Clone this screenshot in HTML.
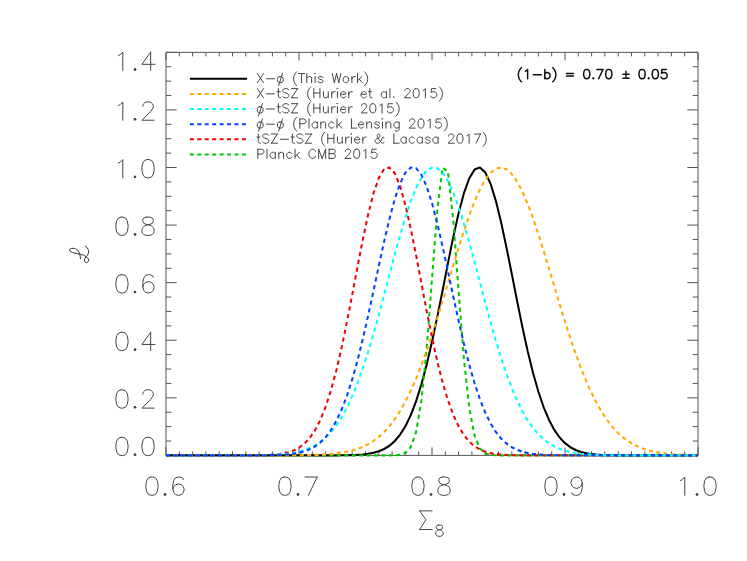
<!DOCTYPE html>
<html><head><meta charset="utf-8"><title>Likelihood plot</title>
<style>html,body{margin:0;padding:0;background:#fff;font-family:"Liberation Sans",sans-serif;}svg{display:block}</style>
</head><body>
<svg width="747" height="561" viewBox="0 0 747 561">
<rect width="747" height="561" fill="#fff"/>
<path d="M166.00 52.35H698.00V455.40H166.00ZM166.00 455.40v-8.00M166.00 52.35v8.00M179.30 455.40v-4.00M179.30 52.35v4.00M192.60 455.40v-4.00M192.60 52.35v4.00M205.90 455.40v-4.00M205.90 52.35v4.00M219.20 455.40v-4.00M219.20 52.35v4.00M232.50 455.40v-4.00M232.50 52.35v4.00M245.80 455.40v-4.00M245.80 52.35v4.00M259.10 455.40v-4.00M259.10 52.35v4.00M272.40 455.40v-4.00M272.40 52.35v4.00M285.70 455.40v-4.00M285.70 52.35v4.00M299.00 455.40v-8.00M299.00 52.35v8.00M312.30 455.40v-4.00M312.30 52.35v4.00M325.60 455.40v-4.00M325.60 52.35v4.00M338.90 455.40v-4.00M338.90 52.35v4.00M352.20 455.40v-4.00M352.20 52.35v4.00M365.50 455.40v-4.00M365.50 52.35v4.00M378.80 455.40v-4.00M378.80 52.35v4.00M392.10 455.40v-4.00M392.10 52.35v4.00M405.40 455.40v-4.00M405.40 52.35v4.00M418.70 455.40v-4.00M418.70 52.35v4.00M432.00 455.40v-8.00M432.00 52.35v8.00M445.30 455.40v-4.00M445.30 52.35v4.00M458.60 455.40v-4.00M458.60 52.35v4.00M471.90 455.40v-4.00M471.90 52.35v4.00M485.20 455.40v-4.00M485.20 52.35v4.00M498.50 455.40v-4.00M498.50 52.35v4.00M511.80 455.40v-4.00M511.80 52.35v4.00M525.10 455.40v-4.00M525.10 52.35v4.00M538.40 455.40v-4.00M538.40 52.35v4.00M551.70 455.40v-4.00M551.70 52.35v4.00M565.00 455.40v-8.00M565.00 52.35v8.00M578.30 455.40v-4.00M578.30 52.35v4.00M591.60 455.40v-4.00M591.60 52.35v4.00M604.90 455.40v-4.00M604.90 52.35v4.00M618.20 455.40v-4.00M618.20 52.35v4.00M631.50 455.40v-4.00M631.50 52.35v4.00M644.80 455.40v-4.00M644.80 52.35v4.00M658.10 455.40v-4.00M658.10 52.35v4.00M671.40 455.40v-4.00M671.40 52.35v4.00M684.70 455.40v-4.00M684.70 52.35v4.00M698.00 455.40v-8.00M698.00 52.35v8.00M166.00 455.40h10.70M698.00 455.40h-10.70M166.00 441.01h5.30M698.00 441.01h-5.30M166.00 426.61h5.30M698.00 426.61h-5.30M166.00 412.22h5.30M698.00 412.22h-5.30M166.00 397.82h10.70M698.00 397.82h-10.70M166.00 383.43h5.30M698.00 383.43h-5.30M166.00 369.03h5.30M698.00 369.03h-5.30M166.00 354.64h5.30M698.00 354.64h-5.30M166.00 340.24h10.70M698.00 340.24h-10.70M166.00 325.85h5.30M698.00 325.85h-5.30M166.00 311.45h5.30M698.00 311.45h-5.30M166.00 297.06h5.30M698.00 297.06h-5.30M166.00 282.66h10.70M698.00 282.66h-10.70M166.00 268.27h5.30M698.00 268.27h-5.30M166.00 253.87h5.30M698.00 253.87h-5.30M166.00 239.48h5.30M698.00 239.48h-5.30M166.00 225.09h10.70M698.00 225.09h-10.70M166.00 210.69h5.30M698.00 210.69h-5.30M166.00 196.30h5.30M698.00 196.30h-5.30M166.00 181.90h5.30M698.00 181.90h-5.30M166.00 167.51h10.70M698.00 167.51h-10.70M166.00 153.11h5.30M698.00 153.11h-5.30M166.00 138.72h5.30M698.00 138.72h-5.30M166.00 124.32h5.30M698.00 124.32h-5.30M166.00 109.93h10.70M698.00 109.93h-10.70M166.00 95.53h5.30M698.00 95.53h-5.30M166.00 81.14h5.30M698.00 81.14h-5.30M166.00 66.74h5.30M698.00 66.74h-5.30M166.00 52.35h10.70M698.00 52.35h-10.70" fill="none" stroke="#555" stroke-width="1"/>
<path transform="scale(1,1.067)" d="M166.00 426.804L171.32 426.804L176.64 426.804L181.96 426.804L187.28 426.804L192.60 426.804L197.92 426.804L203.24 426.804L208.56 426.804L213.88 426.804L219.20 426.804L224.52 426.804L229.84 426.804L235.16 426.804L240.48 426.804L245.80 426.804L251.12 426.804L256.44 426.804L261.76 426.804L267.08 426.804L272.40 426.804L277.72 426.804L283.04 426.804L288.36 426.804L293.68 426.804L299.00 426.804L304.32 426.803L309.64 426.803L314.96 426.801L320.28 426.798L325.60 426.792L330.92 426.779L336.24 426.756L341.56 426.714L346.88 426.638L352.20 426.507L357.52 426.284L362.84 425.914L368.16 425.319L373.48 424.383L378.80 422.953L384.12 420.824L389.44 417.738L394.76 413.386L400.08 407.417L405.40 399.458L410.72 389.150L416.04 376.188L421.36 360.382L426.68 341.711L432.00 320.384L437.32 296.874L442.64 271.942L447.96 246.613L453.28 222.124L458.60 199.834L463.92 181.099L469.24 167.139L474.56 158.910L479.88 156.989L485.20 161.514L490.52 172.163L495.84 188.194L501.16 208.530L506.48 231.880L511.80 256.869L517.12 282.176L522.44 306.640L527.76 329.339L533.08 349.630L538.40 367.148L543.72 381.786L549.04 393.640L554.36 402.953L559.68 410.059L565.00 415.327L570.32 419.125L575.64 421.788L580.96 423.605L586.28 424.813L591.60 425.594L596.92 426.086L602.24 426.388L607.56 426.569L612.88 426.674L618.20 426.734L623.52 426.767L628.84 426.785L634.16 426.795L639.48 426.799L644.80 426.802L650.12 426.803L655.44 426.804L660.76 426.804L666.08 426.804L671.40 426.804L676.72 426.804L682.04 426.804L687.36 426.804L692.68 426.804L698.00 426.804" fill="none" stroke="#000000" stroke-width="2.0" stroke-linejoin="round"/>
<path transform="scale(1,1.067)" d="M166.00 426.804L171.32 426.804L176.64 426.804L181.96 426.804L187.28 426.804L192.60 426.804L197.92 426.804L203.24 426.804L208.56 426.804L213.88 426.804L219.20 426.804L224.52 426.804L229.84 426.804L235.16 426.804L240.48 426.804L245.80 426.804L251.12 426.804L256.44 426.804L261.76 426.804L267.08 426.804L272.40 426.804L277.72 426.804L283.04 426.804L288.36 426.804L293.68 426.804L299.00 426.804L304.32 426.804L309.64 426.804L314.96 426.804L320.28 426.804L325.60 426.804L330.92 426.804L336.24 426.804L341.56 426.804L346.88 426.804L352.20 426.804L357.52 426.804L362.84 426.804L368.16 426.804L373.48 426.804L378.80 426.804L384.12 426.801L389.44 426.781L394.76 426.675L400.08 426.200L405.40 424.433L410.72 418.976L416.04 405.054L421.36 375.961L426.68 326.810L432.00 261.344L437.32 196.453L442.64 156.989L447.96 160.903L453.28 206.332L458.60 273.002L463.92 336.532L469.24 382.226L474.56 408.283L479.88 420.330L485.20 424.900L490.52 426.333L495.84 426.706L501.16 426.787L506.48 426.802L511.80 426.804L517.12 426.804L522.44 426.804L527.76 426.804L533.08 426.804L538.40 426.804L543.72 426.804L549.04 426.804L554.36 426.804L559.68 426.804L565.00 426.804L570.32 426.804L575.64 426.804L580.96 426.804L586.28 426.804L591.60 426.804L596.92 426.804L602.24 426.804L607.56 426.804L612.88 426.804L618.20 426.804L623.52 426.804L628.84 426.804L634.16 426.804L639.48 426.804L644.80 426.804L650.12 426.804L655.44 426.804L660.76 426.804L666.08 426.804L671.40 426.804L676.72 426.804L682.04 426.804L687.36 426.804L692.68 426.804L698.00 426.804" fill="none" stroke="#00c800" stroke-width="2.0" stroke-linejoin="round" stroke-dasharray="4.0 3.43"/>
<path transform="scale(1,1.067)" d="M166.00 426.804L171.32 426.804L176.64 426.804L181.96 426.804L187.28 426.804L192.60 426.804L197.92 426.804L203.24 426.804L208.56 426.804L213.88 426.804L219.20 426.804L224.52 426.804L229.84 426.804L235.16 426.804L240.48 426.803L245.80 426.802L251.12 426.801L256.44 426.800L261.76 426.797L267.08 426.793L272.40 426.786L277.72 426.777L283.04 426.762L288.36 426.739L293.68 426.706L299.00 426.658L304.32 426.588L309.64 426.487L314.96 426.345L320.28 426.146L325.60 425.870L330.92 425.493L336.24 424.983L341.56 424.300L346.88 423.398L352.20 422.219L357.52 420.696L362.84 418.751L368.16 416.298L373.48 413.241L378.80 409.476L384.12 404.897L389.44 399.395L394.76 392.870L400.08 385.228L405.40 376.395L410.72 366.323L416.04 354.993L421.36 342.430L426.68 328.700L432.00 313.923L437.32 298.274L442.64 281.979L447.96 265.317L453.28 248.612L458.60 232.228L463.92 216.549L469.24 201.972L474.56 188.888L479.88 177.664L485.20 168.627L490.52 162.048L495.84 158.128L501.16 156.989L506.48 158.666L511.80 163.108L517.12 170.176L522.44 179.656L527.76 191.263L533.08 204.663L538.40 219.482L543.72 235.327L549.04 251.802L554.36 268.525L559.68 285.141L565.00 301.332L570.32 316.830L575.64 331.418L580.96 344.932L586.28 357.263L591.60 368.351L596.92 378.184L602.24 386.783L607.56 394.205L612.88 400.526L618.20 405.843L623.52 410.258L628.84 413.879L634.16 416.812L639.48 419.161L644.80 421.018L650.12 422.470L655.44 423.591L660.76 424.447L666.08 425.093L671.40 425.575L676.72 425.930L682.04 426.189L687.36 426.376L692.68 426.509L698.00 426.603" fill="none" stroke="#ffaa00" stroke-width="2.0" stroke-linejoin="round" stroke-dasharray="4.0 3.43"/>
<path transform="scale(1,1.067)" d="M166.00 426.804L171.32 426.804L176.64 426.804L181.96 426.804L187.28 426.804L192.60 426.804L197.92 426.804L203.24 426.804L208.56 426.804L213.88 426.804L219.20 426.804L224.52 426.803L229.84 426.801L235.16 426.798L240.48 426.792L245.80 426.779L251.12 426.754L256.44 426.707L261.76 426.623L267.08 426.472L272.40 426.213L277.72 425.779L283.04 425.070L288.36 423.948L293.68 422.219L299.00 419.632L304.32 415.875L309.64 410.575L314.96 403.325L320.28 393.707L325.60 381.346L330.92 365.971L336.24 347.483L341.56 326.030L346.88 302.060L352.20 276.350L357.52 249.995L362.84 224.355L368.16 200.944L373.48 181.290L378.80 166.772L384.12 158.461L389.44 156.989L394.76 162.469L400.08 174.481L405.40 192.126L410.72 214.137L416.04 239.027L421.36 265.258L426.68 291.390L432.00 316.207L437.32 338.793L442.64 358.564L447.96 375.250L453.28 388.856L458.60 399.587L463.92 407.785L469.24 413.854L474.56 418.213L479.88 421.251L485.20 423.307L490.52 424.658L495.84 425.521L501.16 426.057L506.48 426.380L511.80 426.569L517.12 426.678L522.44 426.738L527.76 426.770L533.08 426.787L538.40 426.796L543.72 426.800L549.04 426.802L554.36 426.803L559.68 426.804L565.00 426.804L570.32 426.804L575.64 426.804L580.96 426.804L586.28 426.804L591.60 426.804L596.92 426.804L602.24 426.804L607.56 426.804L612.88 426.804L618.20 426.804L623.52 426.804L628.84 426.804L634.16 426.804L639.48 426.804L644.80 426.804L650.12 426.804L655.44 426.804L660.76 426.804L666.08 426.804L671.40 426.804L676.72 426.804L682.04 426.804L687.36 426.804L692.68 426.804L698.00 426.804" fill="none" stroke="#f00000" stroke-width="2.0" stroke-linejoin="round" stroke-dasharray="4.0 3.43"/>
<path transform="scale(1,1.067)" d="M166.00 426.804L171.32 426.804L176.64 426.804L181.96 426.804L187.28 426.804L192.60 426.804L197.92 426.804L203.24 426.803L208.56 426.803L213.88 426.801L219.20 426.799L224.52 426.796L229.84 426.791L235.16 426.782L240.48 426.767L245.80 426.744L251.12 426.709L256.44 426.653L261.76 426.569L267.08 426.443L272.40 426.257L277.72 425.986L283.04 425.597L288.36 425.048L293.68 424.282L299.00 423.231L304.32 421.809L309.64 419.916L314.96 417.432L320.28 414.224L325.60 410.144L330.92 405.037L336.24 398.744L341.56 391.117L346.88 382.026L352.20 371.372L357.52 359.102L362.84 345.225L368.16 329.821L373.48 313.053L378.80 295.174L384.12 276.526L389.44 257.536L394.76 238.701L400.08 220.572L405.40 203.726L410.72 188.737L416.04 176.147L421.36 166.427L426.68 159.956L432.00 156.989L437.32 157.645L442.64 161.898L447.96 169.578L453.28 180.383L458.60 193.897L463.92 209.621L469.24 226.997L474.56 245.447L479.88 264.399L485.20 283.320L490.52 301.735L495.84 319.248L501.16 335.548L506.48 350.415L511.80 363.718L517.12 375.402L522.44 385.483L527.76 394.033L533.08 401.161L538.40 407.008L543.72 411.727L549.04 415.475L554.36 418.405L559.68 420.661L565.00 422.371L570.32 423.648L575.64 424.587L580.96 425.268L586.28 425.754L591.60 426.096L596.92 426.333L602.24 426.495L607.56 426.604L612.88 426.676L618.20 426.723L623.52 426.754L628.84 426.773L634.16 426.785L639.48 426.793L644.80 426.798L650.12 426.800L655.44 426.802L660.76 426.803L666.08 426.803L671.40 426.804L676.72 426.804L682.04 426.804L687.36 426.804L692.68 426.804L698.00 426.804" fill="none" stroke="#00ffff" stroke-width="2.0" stroke-linejoin="round" stroke-dasharray="4.0 3.43"/>
<path transform="scale(1,1.067)" d="M166.00 426.804L171.32 426.804L176.64 426.804L181.96 426.804L187.28 426.804L192.60 426.804L197.92 426.804L203.24 426.804L208.56 426.804L213.88 426.804L219.20 426.804L224.52 426.803L229.84 426.803L235.16 426.801L240.48 426.799L245.80 426.793L251.12 426.784L256.44 426.767L261.76 426.736L267.08 426.683L272.40 426.594L277.72 426.447L283.04 426.208L288.36 425.830L293.68 425.244L299.00 424.357L304.32 423.044L309.64 421.144L314.96 418.457L320.28 414.745L325.60 409.738L330.92 403.142L336.24 394.665L341.56 384.040L346.88 371.060L352.20 355.620L357.52 337.752L362.84 317.667L368.16 295.775L373.48 272.692L378.80 249.232L384.12 226.365L389.44 205.159L394.76 186.696L400.08 171.990L405.40 161.887L410.72 156.989L416.04 157.593L421.36 163.663L426.68 174.830L432.00 190.435L437.32 209.586L442.64 231.248L447.96 254.332L453.28 277.788L458.60 300.674L463.92 322.218L469.24 341.847L474.56 359.197L479.88 374.099L485.20 386.552L490.52 396.688L495.84 404.731L501.16 410.955L506.48 415.655L511.80 419.122L517.12 421.618L522.44 423.374L527.76 424.582L533.08 425.394L538.40 425.927L543.72 426.270L549.04 426.485L554.36 426.618L559.68 426.697L565.00 426.744L570.32 426.771L575.64 426.786L580.96 426.795L586.28 426.799L591.60 426.802L596.92 426.803L602.24 426.804L607.56 426.804L612.88 426.804L618.20 426.804L623.52 426.804L628.84 426.804L634.16 426.804L639.48 426.804L644.80 426.804L650.12 426.804L655.44 426.804L660.76 426.804L666.08 426.804L671.40 426.804L676.72 426.804L682.04 426.804L687.36 426.804L692.68 426.804L698.00 426.804" fill="none" stroke="#0040ff" stroke-width="2.0" stroke-linejoin="round" stroke-dasharray="4.0 3.43"/>
<path d="M189.90 78.80H247.10" fill="none" stroke="#000000" stroke-width="2.0"/>
<path d="M189.90 93.90H247.10" fill="none" stroke="#ffaa00" stroke-width="2.0" stroke-dasharray="4.0 3.43"/>
<path d="M189.90 109.00H247.10" fill="none" stroke="#00ffff" stroke-width="2.0" stroke-dasharray="4.0 3.43"/>
<path d="M189.90 124.20H247.10" fill="none" stroke="#0040ff" stroke-width="2.0" stroke-dasharray="4.0 3.43"/>
<path d="M189.90 139.30H247.10" fill="none" stroke="#f00000" stroke-width="2.0" stroke-dasharray="4.0 3.43"/>
<path d="M189.90 154.50H247.10" fill="none" stroke="#00c800" stroke-width="2.0" stroke-dasharray="4.0 3.43"/>
<path d="M257.36 73.51L263.49 82.70M263.49 73.51L257.36 82.70M266.55 78.76L274.43 78.76M279.68 76.58L278.36 77.01L277.49 78.33L277.49 79.64L277.49 80.95L278.36 82.26L279.68 82.70L280.99 82.70L282.30 82.26L283.18 80.95L283.18 79.64L283.18 78.33L282.30 77.01L280.99 76.58L279.68 76.58M282.52 73.51L278.58 85.76M296.74 71.76L295.86 72.64L294.99 73.95L294.11 75.70L293.68 77.89L293.68 79.64L294.11 81.83L294.99 83.58L295.86 84.89L296.74 85.76M301.55 73.51L301.55 82.70M298.49 73.51L304.61 73.51M306.80 73.51L306.80 82.70M306.80 78.33L308.11 77.01L308.99 76.58L310.30 76.58L311.18 77.01L311.61 78.33L311.61 82.70M314.68 73.51L315.11 73.95L315.55 73.51L315.11 73.08L314.68 73.51M315.11 76.58L315.11 82.70M322.99 77.89L322.55 77.01L321.24 76.58L319.93 76.58L318.61 77.01L318.18 77.89L318.61 78.76L319.49 79.20L321.68 79.64L322.55 80.08L322.99 80.95L322.99 81.39L322.55 82.26L321.24 82.70L319.93 82.70L318.61 82.26L318.18 81.39M332.18 73.51L334.36 82.70M336.55 73.51L334.36 82.70M336.55 73.51L338.74 82.70M340.93 73.51L338.74 82.70M345.30 76.58L344.43 77.01L343.55 77.89L343.11 79.20L343.11 80.08L343.55 81.39L344.43 82.26L345.30 82.70L346.61 82.70L347.49 82.26L348.36 81.39L348.80 80.08L348.80 79.20L348.36 77.89L347.49 77.01L346.61 76.58L345.30 76.58M351.86 76.58L351.86 82.70M351.86 79.20L352.30 77.89L353.18 77.01L354.05 76.58L355.36 76.58M357.55 73.51L357.55 82.70M361.93 76.58L357.55 80.95M359.30 79.20L362.36 82.70M364.55 71.76L365.43 72.64L366.30 73.95L367.18 75.70L367.61 77.89L367.61 79.64L367.18 81.83L366.30 83.58L365.43 84.89L364.55 85.76M257.36 88.61L263.49 97.80M263.49 88.61L257.36 97.80M266.55 93.86L274.43 93.86M278.36 88.61L278.36 96.05L278.80 97.36L279.68 97.80L280.55 97.80M277.05 91.68L280.11 91.68M288.86 89.93L287.99 89.05L286.68 88.61L284.93 88.61L283.61 89.05L282.74 89.93L282.74 90.80L283.18 91.68L283.61 92.11L284.49 92.55L287.11 93.43L287.99 93.86L288.43 94.30L288.86 95.18L288.86 96.49L287.99 97.36L286.68 97.80L284.93 97.80L283.61 97.36L282.74 96.49M297.61 88.61L291.49 97.80M291.49 88.61L297.61 88.61M291.49 97.80L297.61 97.80M310.74 86.86L309.86 87.74L308.99 89.05L308.11 90.80L307.68 92.99L307.68 94.74L308.11 96.93L308.99 98.68L309.86 99.99L310.74 100.86M313.80 88.61L313.80 97.80M319.93 88.61L319.93 97.80M313.80 92.99L319.93 92.99M323.43 91.68L323.43 96.05L323.86 97.36L324.74 97.80L326.05 97.80L326.93 97.36L328.24 96.05M328.24 91.68L328.24 97.80M331.74 91.68L331.74 97.80M331.74 94.30L332.18 92.99L333.05 92.11L333.93 91.68L335.24 91.68M336.99 88.61L337.43 89.05L337.86 88.61L337.43 88.18L336.99 88.61M337.43 91.68L337.43 97.80M340.49 94.30L345.74 94.30L345.74 93.43L345.30 92.55L344.86 92.11L343.99 91.68L342.68 91.68L341.80 92.11L340.93 92.99L340.49 94.30L340.49 95.18L340.93 96.49L341.80 97.36L342.68 97.80L343.99 97.80L344.86 97.36L345.74 96.49M348.80 91.68L348.80 97.80M348.80 94.30L349.24 92.99L350.11 92.11L350.99 91.68L352.30 91.68M361.05 94.30L366.30 94.30L366.30 93.43L365.86 92.55L365.43 92.11L364.55 91.68L363.24 91.68L362.36 92.11L361.49 92.99L361.05 94.30L361.05 95.18L361.49 96.49L362.36 97.36L363.24 97.80L364.55 97.80L365.43 97.36L366.30 96.49M369.80 88.61L369.80 96.05L370.24 97.36L371.11 97.80L371.99 97.80M368.49 91.68L371.55 91.68M386.43 91.68L386.43 97.80M386.43 92.99L385.55 92.11L384.68 91.68L383.36 91.68L382.49 92.11L381.61 92.99L381.18 94.30L381.18 95.18L381.61 96.49L382.49 97.36L383.36 97.80L384.68 97.80L385.55 97.36L386.43 96.49M389.93 88.61L389.93 97.80M393.86 96.93L393.43 97.36L393.86 97.80L394.30 97.36L393.86 96.93M404.80 90.80L404.80 90.36L405.24 89.49L405.68 89.05L406.55 88.61L408.30 88.61L409.18 89.05L409.61 89.49L410.05 90.36L410.05 91.24L409.61 92.11L408.74 93.43L404.36 97.80L410.49 97.80M415.74 88.61L414.43 89.05L413.55 90.36L413.11 92.55L413.11 93.86L413.55 96.05L414.43 97.36L415.74 97.80L416.61 97.80L417.93 97.36L418.80 96.05L419.24 93.86L419.24 92.55L418.80 90.36L417.93 89.05L416.61 88.61L415.74 88.61M423.18 90.36L424.05 89.93L425.36 88.61L425.36 97.80M435.86 88.61L431.49 88.61L431.05 92.55L431.49 92.11L432.80 91.68L434.11 91.68L435.43 92.11L436.30 92.99L436.74 94.30L436.74 95.18L436.30 96.49L435.43 97.36L434.11 97.80L432.80 97.80L431.49 97.36L431.05 96.93L430.61 96.05M439.36 86.86L440.24 87.74L441.11 89.05L441.99 90.80L442.43 92.99L442.43 94.74L441.99 96.93L441.11 98.68L440.24 99.99L439.36 100.86M259.55 106.78L258.24 107.21L257.36 108.53L257.36 109.84L257.36 111.15L258.24 112.46L259.55 112.90L260.86 112.90L262.18 112.46L263.05 111.15L263.05 109.84L263.05 108.53L262.18 107.21L260.86 106.78L259.55 106.78M262.39 103.71L258.46 115.96M266.55 108.96L274.43 108.96M278.36 103.71L278.36 111.15L278.80 112.46L279.68 112.90L280.55 112.90M277.05 106.78L280.11 106.78M288.86 105.03L287.99 104.15L286.68 103.71L284.93 103.71L283.61 104.15L282.74 105.03L282.74 105.90L283.18 106.78L283.61 107.21L284.49 107.65L287.11 108.53L287.99 108.96L288.43 109.40L288.86 110.28L288.86 111.59L287.99 112.46L286.68 112.90L284.93 112.90L283.61 112.46L282.74 111.59M297.61 103.71L291.49 112.90M291.49 103.71L297.61 103.71M291.49 112.90L297.61 112.90M310.74 101.96L309.86 102.84L308.99 104.15L308.11 105.90L307.68 108.09L307.68 109.84L308.11 112.03L308.99 113.78L309.86 115.09L310.74 115.96M313.80 103.71L313.80 112.90M319.93 103.71L319.93 112.90M313.80 108.09L319.93 108.09M323.43 106.78L323.43 111.15L323.86 112.46L324.74 112.90L326.05 112.90L326.93 112.46L328.24 111.15M328.24 106.78L328.24 112.90M331.74 106.78L331.74 112.90M331.74 109.40L332.18 108.09L333.05 107.21L333.93 106.78L335.24 106.78M336.99 103.71L337.43 104.15L337.86 103.71L337.43 103.28L336.99 103.71M337.43 106.78L337.43 112.90M340.49 109.40L345.74 109.40L345.74 108.53L345.30 107.65L344.86 107.21L343.99 106.78L342.68 106.78L341.80 107.21L340.93 108.09L340.49 109.40L340.49 110.28L340.93 111.59L341.80 112.46L342.68 112.90L343.99 112.90L344.86 112.46L345.74 111.59M348.80 106.78L348.80 112.90M348.80 109.40L349.24 108.09L350.11 107.21L350.99 106.78L352.30 106.78M361.49 105.90L361.49 105.46L361.93 104.59L362.36 104.15L363.24 103.71L364.99 103.71L365.86 104.15L366.30 104.59L366.74 105.46L366.74 106.34L366.30 107.21L365.43 108.53L361.05 112.90L367.18 112.90M372.43 103.71L371.11 104.15L370.24 105.46L369.80 107.65L369.80 108.96L370.24 111.15L371.11 112.46L372.43 112.90L373.30 112.90L374.61 112.46L375.49 111.15L375.93 108.96L375.93 107.65L375.49 105.46L374.61 104.15L373.30 103.71L372.43 103.71M379.86 105.46L380.74 105.03L382.05 103.71L382.05 112.90M392.55 103.71L388.18 103.71L387.74 107.65L388.18 107.21L389.49 106.78L390.80 106.78L392.11 107.21L392.99 108.09L393.43 109.40L393.43 110.28L392.99 111.59L392.11 112.46L390.80 112.90L389.49 112.90L388.18 112.46L387.74 112.03L387.30 111.15M396.05 101.96L396.93 102.84L397.80 104.15L398.68 105.90L399.11 108.09L399.11 109.84L398.68 112.03L397.80 113.78L396.93 115.09L396.05 115.96M259.55 121.97L258.24 122.41L257.36 123.72L257.36 125.04L257.36 126.35L258.24 127.66L259.55 128.10L260.86 128.10L262.18 127.66L263.05 126.35L263.05 125.04L263.05 123.72L262.18 122.41L260.86 121.97L259.55 121.97M262.39 118.91L258.46 131.16M266.55 124.16L274.43 124.16M279.68 121.97L278.36 122.41L277.49 123.72L277.49 125.04L277.49 126.35L278.36 127.66L279.68 128.10L280.99 128.10L282.30 127.66L283.18 126.35L283.18 125.04L283.18 123.72L282.30 122.41L280.99 121.97L279.68 121.97M282.52 118.91L278.58 131.16M296.74 117.16L295.86 118.04L294.99 119.35L294.11 121.10L293.68 123.29L293.68 125.04L294.11 127.22L294.99 128.97L295.86 130.29L296.74 131.16M299.80 118.91L299.80 128.10M299.80 118.91L303.74 118.91L305.05 119.35L305.49 119.79L305.93 120.66L305.93 121.97L305.49 122.85L305.05 123.29L303.74 123.72L299.80 123.72M308.99 118.91L308.99 128.10M317.30 121.97L317.30 128.10M317.30 123.29L316.43 122.41L315.55 121.97L314.24 121.97L313.36 122.41L312.49 123.29L312.05 124.60L312.05 125.47L312.49 126.79L313.36 127.66L314.24 128.10L315.55 128.10L316.43 127.66L317.30 126.79M320.80 121.97L320.80 128.10M320.80 123.72L322.11 122.41L322.99 121.97L324.30 121.97L325.18 122.41L325.61 123.72L325.61 128.10M333.93 123.29L333.05 122.41L332.18 121.97L330.86 121.97L329.99 122.41L329.11 123.29L328.68 124.60L328.68 125.47L329.11 126.79L329.99 127.66L330.86 128.10L332.18 128.10L333.05 127.66L333.93 126.79M336.99 118.91L336.99 128.10M341.36 121.97L336.99 126.35M338.74 124.60L341.80 128.10M351.43 118.91L351.43 128.10M351.43 128.10L356.68 128.10M358.43 124.60L363.68 124.60L363.68 123.72L363.24 122.85L362.80 122.41L361.93 121.97L360.61 121.97L359.74 122.41L358.86 123.29L358.43 124.60L358.43 125.47L358.86 126.79L359.74 127.66L360.61 128.10L361.93 128.10L362.80 127.66L363.68 126.79M366.74 121.97L366.74 128.10M366.74 123.72L368.05 122.41L368.93 121.97L370.24 121.97L371.11 122.41L371.55 123.72L371.55 128.10M379.43 123.29L378.99 122.41L377.68 121.97L376.36 121.97L375.05 122.41L374.61 123.29L375.05 124.16L375.93 124.60L378.11 125.04L378.99 125.47L379.43 126.35L379.43 126.79L378.99 127.66L377.68 128.10L376.36 128.10L375.05 127.66L374.61 126.79M382.05 118.91L382.49 119.35L382.93 118.91L382.49 118.47L382.05 118.91M382.49 121.97L382.49 128.10M385.99 121.97L385.99 128.10M385.99 123.72L387.30 122.41L388.18 121.97L389.49 121.97L390.36 122.41L390.80 123.72L390.80 128.10M399.11 121.97L399.11 128.97L398.68 130.29L398.24 130.72L397.36 131.16L396.05 131.16L395.18 130.72M399.11 123.29L398.24 122.41L397.36 121.97L396.05 121.97L395.18 122.41L394.30 123.29L393.86 124.60L393.86 125.47L394.30 126.79L395.18 127.66L396.05 128.10L397.36 128.10L398.24 127.66L399.11 126.79M409.61 121.10L409.61 120.66L410.05 119.79L410.49 119.35L411.36 118.91L413.11 118.91L413.99 119.35L414.43 119.79L414.86 120.66L414.86 121.54L414.43 122.41L413.55 123.72L409.18 128.10L415.30 128.10M420.55 118.91L419.24 119.35L418.36 120.66L417.93 122.85L417.93 124.16L418.36 126.35L419.24 127.66L420.55 128.10L421.43 128.10L422.74 127.66L423.61 126.35L424.05 124.16L424.05 122.85L423.61 120.66L422.74 119.35L421.43 118.91L420.55 118.91M427.99 120.66L428.86 120.22L430.18 118.91L430.18 128.10M440.68 118.91L436.30 118.91L435.86 122.85L436.30 122.41L437.61 121.97L438.93 121.97L440.24 122.41L441.11 123.29L441.55 124.60L441.55 125.47L441.11 126.79L440.24 127.66L438.93 128.10L437.61 128.10L436.30 127.66L435.86 127.22L435.43 126.35M444.18 117.16L445.05 118.04L445.93 119.35L446.80 121.10L447.24 123.29L447.24 125.04L446.80 127.22L445.93 128.97L445.05 130.29L444.18 131.16M258.24 134.01L258.24 141.45L258.68 142.76L259.55 143.20L260.43 143.20M256.93 137.08L259.99 137.08M268.74 135.33L267.86 134.45L266.55 134.01L264.80 134.01L263.49 134.45L262.61 135.33L262.61 136.20L263.05 137.08L263.49 137.51L264.36 137.95L266.99 138.83L267.86 139.26L268.30 139.70L268.74 140.58L268.74 141.89L267.86 142.76L266.55 143.20L264.80 143.20L263.49 142.76L262.61 141.89M277.49 134.01L271.36 143.20M271.36 134.01L277.49 134.01M271.36 143.20L277.49 143.20M280.55 139.26L288.43 139.26M292.36 134.01L292.36 141.45L292.80 142.76L293.68 143.20L294.55 143.20M291.05 137.08L294.11 137.08M302.86 135.33L301.99 134.45L300.68 134.01L298.93 134.01L297.61 134.45L296.74 135.33L296.74 136.20L297.18 137.08L297.61 137.51L298.49 137.95L301.11 138.83L301.99 139.26L302.43 139.70L302.86 140.58L302.86 141.89L301.99 142.76L300.68 143.20L298.93 143.20L297.61 142.76L296.74 141.89M311.61 134.01L305.49 143.20M305.49 134.01L311.61 134.01M305.49 143.20L311.61 143.20M324.74 132.26L323.86 133.14L322.99 134.45L322.11 136.20L321.68 138.39L321.68 140.14L322.11 142.33L322.99 144.08L323.86 145.39L324.74 146.26M327.80 134.01L327.80 143.20M333.93 134.01L333.93 143.20M327.80 138.39L333.93 138.39M337.43 137.08L337.43 141.45L337.86 142.76L338.74 143.20L340.05 143.20L340.93 142.76L342.24 141.45M342.24 137.08L342.24 143.20M345.74 137.08L345.74 143.20M345.74 139.70L346.18 138.39L347.05 137.51L347.93 137.08L349.24 137.08M350.99 134.01L351.43 134.45L351.86 134.01L351.43 133.58L350.99 134.01M351.43 137.08L351.43 143.20M354.49 139.70L359.74 139.70L359.74 138.83L359.30 137.95L358.86 137.51L357.99 137.08L356.68 137.08L355.80 137.51L354.93 138.39L354.49 139.70L354.49 140.58L354.93 141.89L355.80 142.76L356.68 143.20L357.99 143.20L358.86 142.76L359.74 141.89M362.80 137.08L362.80 143.20M362.80 139.70L363.24 138.39L364.11 137.51L364.99 137.08L366.30 137.08M383.80 137.95L383.80 137.51L383.36 137.08L382.93 137.08L382.49 137.51L382.05 138.39L381.18 140.58L380.30 141.89L379.43 142.76L378.55 143.20L376.80 143.20L375.93 142.76L375.49 142.33L375.05 141.45L375.05 140.58L375.49 139.70L375.93 139.26L378.99 137.51L379.43 137.08L379.86 136.20L379.86 135.33L379.43 134.45L378.55 134.01L377.68 134.45L377.24 135.33L377.24 136.20L377.68 137.51L378.55 138.83L380.74 141.89L381.61 142.76L382.49 143.20L383.36 143.20L383.80 142.76L383.80 142.33M393.86 134.01L393.86 143.20M393.86 143.20L399.11 143.20M406.11 137.08L406.11 143.20M406.11 138.39L405.24 137.51L404.36 137.08L403.05 137.08L402.18 137.51L401.30 138.39L400.86 139.70L400.86 140.58L401.30 141.89L402.18 142.76L403.05 143.20L404.36 143.20L405.24 142.76L406.11 141.89M414.43 138.39L413.55 137.51L412.68 137.08L411.36 137.08L410.49 137.51L409.61 138.39L409.18 139.70L409.18 140.58L409.61 141.89L410.49 142.76L411.36 143.20L412.68 143.20L413.55 142.76L414.43 141.89M422.30 137.08L422.30 143.20M422.30 138.39L421.43 137.51L420.55 137.08L419.24 137.08L418.36 137.51L417.49 138.39L417.05 139.70L417.05 140.58L417.49 141.89L418.36 142.76L419.24 143.20L420.55 143.20L421.43 142.76L422.30 141.89M430.18 138.39L429.74 137.51L428.43 137.08L427.11 137.08L425.80 137.51L425.36 138.39L425.80 139.26L426.68 139.70L428.86 140.14L429.74 140.58L430.18 141.45L430.18 141.89L429.74 142.76L428.43 143.20L427.11 143.20L425.80 142.76L425.36 141.89M438.05 137.08L438.05 143.20M438.05 138.39L437.18 137.51L436.30 137.08L434.99 137.08L434.11 137.51L433.24 138.39L432.80 139.70L432.80 140.58L433.24 141.89L434.11 142.76L434.99 143.20L436.30 143.20L437.18 142.76L438.05 141.89M448.55 136.20L448.55 135.76L448.99 134.89L449.43 134.45L450.30 134.01L452.05 134.01L452.93 134.45L453.36 134.89L453.80 135.76L453.80 136.64L453.36 137.51L452.49 138.83L448.11 143.20L454.24 143.20M459.49 134.01L458.18 134.45L457.30 135.76L456.86 137.95L456.86 139.26L457.30 141.45L458.18 142.76L459.49 143.20L460.36 143.20L461.68 142.76L462.55 141.45L462.99 139.26L462.99 137.95L462.55 135.76L461.68 134.45L460.36 134.01L459.49 134.01M466.93 135.76L467.80 135.33L469.11 134.01L469.11 143.20M480.49 134.01L476.11 143.20M474.36 134.01L480.49 134.01M483.11 132.26L483.99 133.14L484.86 134.45L485.74 136.20L486.18 138.39L486.18 140.14L485.74 142.33L484.86 144.08L483.99 145.39L483.11 146.26M257.80 149.21L257.80 158.40M257.80 149.21L261.74 149.21L263.05 149.65L263.49 150.09L263.93 150.96L263.93 152.28L263.49 153.15L263.05 153.59L261.74 154.03L257.80 154.03M266.99 149.21L266.99 158.40M275.30 152.28L275.30 158.40M275.30 153.59L274.43 152.71L273.55 152.28L272.24 152.28L271.36 152.71L270.49 153.59L270.05 154.90L270.05 155.78L270.49 157.09L271.36 157.96L272.24 158.40L273.55 158.40L274.43 157.96L275.30 157.09M278.80 152.28L278.80 158.40M278.80 154.03L280.11 152.71L280.99 152.28L282.30 152.28L283.18 152.71L283.61 154.03L283.61 158.40M291.93 153.59L291.05 152.71L290.18 152.28L288.86 152.28L287.99 152.71L287.11 153.59L286.68 154.90L286.68 155.78L287.11 157.09L287.99 157.96L288.86 158.40L290.18 158.40L291.05 157.96L291.93 157.09M294.99 149.21L294.99 158.40M299.36 152.28L294.99 156.65M296.74 154.90L299.80 158.40M315.55 151.40L315.11 150.53L314.24 149.65L313.36 149.21L311.61 149.21L310.74 149.65L309.86 150.53L309.43 151.40L308.99 152.71L308.99 154.90L309.43 156.21L309.86 157.09L310.74 157.96L311.61 158.40L313.36 158.40L314.24 157.96L315.11 157.09L315.55 156.21M318.61 149.21L318.61 158.40M318.61 149.21L322.11 158.40M325.61 149.21L322.11 158.40M325.61 149.21L325.61 158.40M329.11 149.21L329.11 158.40M329.11 149.21L333.05 149.21L334.36 149.65L334.80 150.09L335.24 150.96L335.24 151.84L334.80 152.71L334.36 153.15L333.05 153.59M329.11 153.59L333.05 153.59L334.36 154.03L334.80 154.46L335.24 155.34L335.24 156.65L334.80 157.53L334.36 157.96L333.05 158.40L329.11 158.40M345.30 151.40L345.30 150.96L345.74 150.09L346.18 149.65L347.05 149.21L348.80 149.21L349.68 149.65L350.11 150.09L350.55 150.96L350.55 151.84L350.11 152.71L349.24 154.03L344.86 158.40L350.99 158.40M356.24 149.21L354.93 149.65L354.05 150.96L353.61 153.15L353.61 154.46L354.05 156.65L354.93 157.96L356.24 158.40L357.11 158.40L358.43 157.96L359.30 156.65L359.74 154.46L359.74 153.15L359.30 150.96L358.43 149.65L357.11 149.21L356.24 149.21M363.68 150.96L364.55 150.53L365.86 149.21L365.86 158.40M376.36 149.21L371.99 149.21L371.55 153.15L371.99 152.71L373.30 152.28L374.61 152.28L375.93 152.71L376.80 153.59L377.24 154.90L377.24 155.78L376.80 157.09L375.93 157.96L374.61 158.40L373.30 158.40L371.99 157.96L371.55 157.53L371.11 156.65M151.08 477.03L148.47 477.90L146.73 480.51L145.86 484.86L145.86 487.47L146.73 491.82L148.47 494.43L151.08 495.30L152.82 495.30L155.43 494.43L157.17 491.82L158.04 487.47L158.04 484.86L157.17 480.51L155.43 477.90L152.82 477.03L151.08 477.03M165.00 493.56L164.13 494.43L165.00 495.30L165.87 494.43L165.00 493.56M183.27 479.64L182.40 477.90L179.79 477.03L178.05 477.03L175.44 477.90L173.70 480.51L172.83 484.86L172.83 489.21L173.70 492.69L175.44 494.43L178.05 495.30L178.92 495.30L181.53 494.43L183.27 492.69L184.14 490.08L184.14 489.21L183.27 486.60L181.53 484.86L178.92 483.99L178.05 483.99L175.44 484.86L173.70 486.60L172.83 489.21M284.08 477.03L281.47 477.90L279.73 480.51L278.86 484.86L278.86 487.47L279.73 491.82L281.47 494.43L284.08 495.30L285.82 495.30L288.43 494.43L290.17 491.82L291.04 487.47L291.04 484.86L290.17 480.51L288.43 477.90L285.82 477.03L284.08 477.03M298.00 493.56L297.13 494.43L298.00 495.30L298.87 494.43L298.00 493.56M317.14 477.03L308.44 495.30M304.96 477.03L317.14 477.03M417.08 477.03L414.47 477.90L412.73 480.51L411.86 484.86L411.86 487.47L412.73 491.82L414.47 494.43L417.08 495.30L418.82 495.30L421.43 494.43L423.17 491.82L424.04 487.47L424.04 484.86L423.17 480.51L421.43 477.90L418.82 477.03L417.08 477.03M431.00 493.56L430.13 494.43L431.00 495.30L431.87 494.43L431.00 493.56M442.31 477.03L439.70 477.90L438.83 479.64L438.83 481.38L439.70 483.12L441.44 483.99L444.92 484.86L447.53 485.73L449.27 487.47L450.14 489.21L450.14 491.82L449.27 493.56L448.40 494.43L445.79 495.30L442.31 495.30L439.70 494.43L438.83 493.56L437.96 491.82L437.96 489.21L438.83 487.47L440.57 485.73L443.18 484.86L446.66 483.99L448.40 483.12L449.27 481.38L449.27 479.64L448.40 477.90L445.79 477.03L442.31 477.03M550.08 477.03L547.47 477.90L545.73 480.51L544.86 484.86L544.86 487.47L545.73 491.82L547.47 494.43L550.08 495.30L551.82 495.30L554.43 494.43L556.17 491.82L557.04 487.47L557.04 484.86L556.17 480.51L554.43 477.90L551.82 477.03L550.08 477.03M564.00 493.56L563.13 494.43L564.00 495.30L564.87 494.43L564.00 493.56M582.27 483.12L581.40 485.73L579.66 487.47L577.05 488.34L576.18 488.34L573.57 487.47L571.83 485.73L570.96 483.12L570.96 482.25L571.83 479.64L573.57 477.90L576.18 477.03L577.05 477.03L579.66 477.90L581.40 479.64L582.27 483.12L582.27 487.47L581.40 491.82L579.66 494.43L577.05 495.30L575.31 495.30L572.70 494.43L571.83 492.69M680.47 480.51L682.21 479.64L684.82 477.03L684.82 495.30M697.00 493.56L696.13 494.43L697.00 495.30L697.87 494.43L697.00 493.56M709.18 477.03L706.57 477.90L704.83 480.51L703.96 484.86L703.96 487.47L704.83 491.82L706.57 494.43L709.18 495.30L710.92 495.30L713.53 494.43L715.27 491.82L716.14 487.47L716.14 484.86L715.27 480.51L713.53 477.90L710.92 477.03L709.18 477.03M121.08 437.33L118.47 438.20L116.73 440.81L115.86 445.16L115.86 447.77L116.73 452.12L118.47 454.73L121.08 455.60L122.82 455.60L125.43 454.73L127.17 452.12L128.04 447.77L128.04 445.16L127.17 440.81L125.43 438.20L122.82 437.33L121.08 437.33M135.00 453.86L134.13 454.73L135.00 455.60L135.87 454.73L135.00 453.86M147.18 437.33L144.57 438.20L142.83 440.81L141.96 445.16L141.96 447.77L142.83 452.12L144.57 454.73L147.18 455.60L148.92 455.60L151.53 454.73L153.27 452.12L154.14 447.77L154.14 445.16L153.27 440.81L151.53 438.20L148.92 437.33L147.18 437.33M121.08 389.85L118.47 390.72L116.73 393.33L115.86 397.68L115.86 400.29L116.73 404.64L118.47 407.25L121.08 408.12L122.82 408.12L125.43 407.25L127.17 404.64L128.04 400.29L128.04 397.68L127.17 393.33L125.43 390.72L122.82 389.85L121.08 389.85M135.00 406.38L134.13 407.25L135.00 408.12L135.87 407.25L135.00 406.38M142.83 394.20L142.83 393.33L143.70 391.59L144.57 390.72L146.31 389.85L149.79 389.85L151.53 390.72L152.40 391.59L153.27 393.33L153.27 395.07L152.40 396.81L150.66 399.42L141.96 408.12L154.14 408.12M121.08 332.27L118.47 333.14L116.73 335.75L115.86 340.10L115.86 342.71L116.73 347.06L118.47 349.67L121.08 350.54L122.82 350.54L125.43 349.67L127.17 347.06L128.04 342.71L128.04 340.10L127.17 335.75L125.43 333.14L122.82 332.27L121.08 332.27M135.00 348.80L134.13 349.67L135.00 350.54L135.87 349.67L135.00 348.80M150.66 332.27L141.96 344.45L155.01 344.45M150.66 332.27L150.66 350.54M121.08 274.69L118.47 275.56L116.73 278.17L115.86 282.52L115.86 285.13L116.73 289.48L118.47 292.09L121.08 292.96L122.82 292.96L125.43 292.09L127.17 289.48L128.04 285.13L128.04 282.52L127.17 278.17L125.43 275.56L122.82 274.69L121.08 274.69M135.00 291.22L134.13 292.09L135.00 292.96L135.87 292.09L135.00 291.22M153.27 277.30L152.40 275.56L149.79 274.69L148.05 274.69L145.44 275.56L143.70 278.17L142.83 282.52L142.83 286.87L143.70 290.35L145.44 292.09L148.05 292.96L148.92 292.96L151.53 292.09L153.27 290.35L154.14 287.74L154.14 286.87L153.27 284.26L151.53 282.52L148.92 281.65L148.05 281.65L145.44 282.52L143.70 284.26L142.83 286.87M121.08 217.12L118.47 217.99L116.73 220.60L115.86 224.95L115.86 227.56L116.73 231.91L118.47 234.52L121.08 235.39L122.82 235.39L125.43 234.52L127.17 231.91L128.04 227.56L128.04 224.95L127.17 220.60L125.43 217.99L122.82 217.12L121.08 217.12M135.00 233.65L134.13 234.52L135.00 235.39L135.87 234.52L135.00 233.65M146.31 217.12L143.70 217.99L142.83 219.73L142.83 221.47L143.70 223.21L145.44 224.08L148.92 224.95L151.53 225.82L153.27 227.56L154.14 229.30L154.14 231.91L153.27 233.65L152.40 234.52L149.79 235.39L146.31 235.39L143.70 234.52L142.83 233.65L141.96 231.91L141.96 229.30L142.83 227.56L144.57 225.82L147.18 224.95L150.66 224.08L152.40 223.21L153.27 221.47L153.27 219.73L152.40 217.99L149.79 217.12L146.31 217.12M118.47 163.02L120.21 162.15L122.82 159.54L122.82 177.81M135.00 176.07L134.13 176.94L135.00 177.81L135.87 176.94L135.00 176.07M147.18 159.54L144.57 160.41L142.83 163.02L141.96 167.37L141.96 169.98L142.83 174.33L144.57 176.94L147.18 177.81L148.92 177.81L151.53 176.94L153.27 174.33L154.14 169.98L154.14 167.37L153.27 163.02L151.53 160.41L148.92 159.54L147.18 159.54M118.47 105.44L120.21 104.57L122.82 101.96L122.82 120.23M135.00 118.49L134.13 119.36L135.00 120.23L135.87 119.36L135.00 118.49M142.83 106.31L142.83 105.44L143.70 103.70L144.57 102.83L146.31 101.96L149.79 101.96L151.53 102.83L152.40 103.70L153.27 105.44L153.27 107.18L152.40 108.92L150.66 111.53L141.96 120.23L154.14 120.23M118.47 55.61L120.21 54.74L122.82 52.13L122.82 70.40M135.00 68.66L134.13 69.53L135.00 70.40L135.87 69.53L135.00 68.66M150.66 52.13L141.96 64.31L155.01 64.31M150.66 52.13L150.66 70.40M419.68 510.85L425.89 519.73L419.68 529.50M419.68 510.85L432.11 510.85M419.68 529.50L432.11 529.50M438.38 525.06L436.78 525.60L436.24 526.67L436.24 527.74L436.78 528.81L437.85 529.34L439.99 529.88L441.59 530.41L442.66 531.48L443.20 532.55L443.20 534.16L442.66 535.23L442.12 535.76L440.52 536.30L438.38 536.30L436.78 535.76L436.24 535.23L435.71 534.16L435.71 532.55L436.24 531.48L437.31 530.41L438.92 529.88L441.06 529.34L442.12 528.81L442.66 527.74L442.66 526.67L442.12 525.60L440.52 525.06L438.38 525.06" fill="none" stroke="#444" stroke-width="1" stroke-linecap="round" stroke-linejoin="round"/>
<circle cx="165.00" cy="494.43" r="1.25" fill="#444"/>
<circle cx="298.00" cy="494.43" r="1.25" fill="#444"/>
<circle cx="431.00" cy="494.43" r="1.25" fill="#444"/>
<circle cx="564.00" cy="494.43" r="1.25" fill="#444"/>
<circle cx="697.00" cy="494.43" r="1.25" fill="#444"/>
<circle cx="135.00" cy="454.73" r="1.25" fill="#444"/>
<circle cx="135.00" cy="407.25" r="1.25" fill="#444"/>
<circle cx="135.00" cy="349.67" r="1.25" fill="#444"/>
<circle cx="135.00" cy="292.09" r="1.25" fill="#444"/>
<circle cx="135.00" cy="234.52" r="1.25" fill="#444"/>
<circle cx="135.00" cy="176.94" r="1.25" fill="#444"/>
<circle cx="135.00" cy="119.36" r="1.25" fill="#444"/>
<circle cx="135.00" cy="69.53" r="1.25" fill="#444"/>
<path d="M85.47 246.24L86.90 247.40L87.96 248.99L88.60 250.50L88.70 251.98L88.20 253.80L87.20 255.50L86.20 256.70L85.10 258.30L84.47 259.97L84.50 261.10L84.97 261.97L85.70 262.50L86.47 262.70L87.40 262.40L88.20 261.70L88.70 260.80L88.70 259.97L88.30 258.90L87.46 257.97L86.20 256.70L84.90 255.90L83.47 255.20L80.47 254.20L76.50 253.50L72.50 252.50L71.00 251.80L70.00 251.00L69.40 249.70L69.70 249.20L70.50 248.75L71.70 248.40L73.00 248.30L74.30 248.45L75.50 248.80L76.60 249.40L77.50 250.00L78.30 251.00L79.00 252.20L80.00 255.00L80.50 258.70" fill="none" stroke="#333" stroke-width="1" stroke-linecap="round" stroke-linejoin="round"/>
<path d="M521.45 67.67L520.57 68.56L519.69 69.88L518.81 71.64L518.36 73.85L518.36 75.61L518.81 77.82L519.69 79.58L520.57 80.91L521.45 81.79M525.42 71.20L526.30 70.76L527.62 69.44L527.62 78.70M533.36 74.73L541.30 74.73M544.82 69.44L544.82 78.70M544.82 73.85L545.71 72.97L546.59 72.53L547.91 72.53L548.79 72.97L549.68 73.85L550.12 75.17L550.12 76.05L549.68 77.38L548.79 78.26L547.91 78.70L546.59 78.70L545.71 78.26L544.82 77.38M552.76 67.67L553.64 68.56L554.53 69.88L555.41 71.64L555.85 73.85L555.85 75.61L555.41 77.82L554.53 79.58L553.64 80.91L552.76 81.79M566.43 73.41L573.49 73.41M566.43 76.05L573.49 76.05M586.28 69.44L584.96 69.88L584.07 71.20L583.63 73.41L583.63 74.73L584.07 76.94L584.96 78.26L586.28 78.70L587.16 78.70L588.48 78.26L589.37 76.94L589.81 74.73L589.81 73.41L589.37 71.20L588.48 69.88L587.16 69.44L586.28 69.44M593.33 77.82L592.89 78.26L593.33 78.70L593.77 78.26L593.33 77.82M603.04 69.44L598.63 78.70M596.86 69.44L603.04 69.44M608.33 69.44L607.00 69.88L606.12 71.20L605.68 73.41L605.68 74.73L606.12 76.94L607.00 78.26L608.33 78.70L609.21 78.70L610.53 78.26L611.41 76.94L611.86 74.73L611.86 73.41L611.41 71.20L610.53 69.88L609.21 69.44L608.33 69.44M625.97 71.20L625.97 78.26M622.88 74.29L629.06 74.29M622.88 78.26L629.06 78.26M641.62 69.44L640.30 69.88L639.42 71.20L638.98 73.41L638.98 74.73L639.42 76.94L640.30 78.26L641.62 78.70L642.51 78.70L643.83 78.26L644.71 76.94L645.15 74.73L645.15 73.41L644.71 71.20L643.83 69.88L642.51 69.44L641.62 69.44M648.68 77.82L648.24 78.26L648.68 78.70L649.12 78.26L648.68 77.82M654.85 69.44L653.53 69.88L652.65 71.20L652.21 73.41L652.21 74.73L652.65 76.94L653.53 78.26L654.85 78.70L655.74 78.70L657.06 78.26L657.94 76.94L658.38 74.73L658.38 73.41L657.94 71.20L657.06 69.88L655.74 69.44L654.85 69.44M666.32 69.44L661.91 69.44L661.47 73.41L661.91 72.97L663.23 72.53L664.56 72.53L665.88 72.97L666.76 73.85L667.20 75.17L667.20 76.05L666.76 77.38L665.88 78.26L664.56 78.70L663.23 78.70L661.91 78.26L661.47 77.82L661.03 76.94" fill="none" stroke="#111" stroke-width="1.5" stroke-linecap="round" stroke-linejoin="round"/>
</svg>
</body></html>
